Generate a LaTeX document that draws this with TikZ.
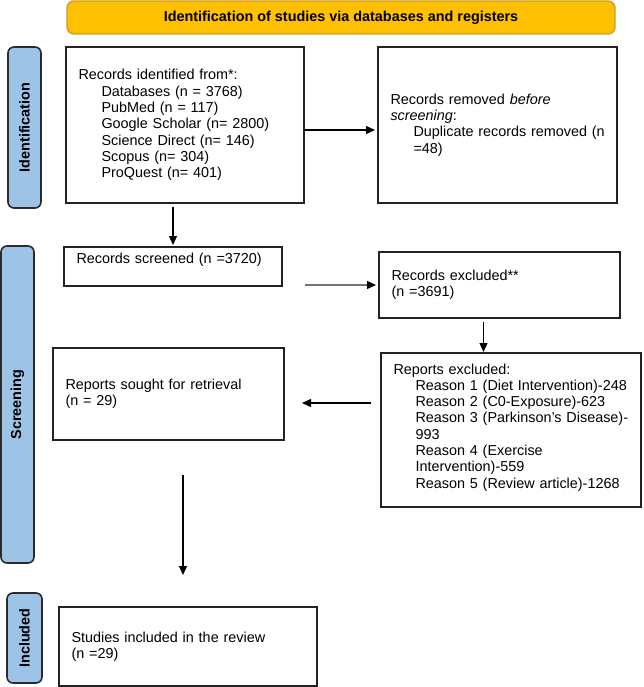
\documentclass[tikz,border=0pt]{standalone}
\usepackage{fontspec}
\setmainfont{Liberation Sans}
\usetikzlibrary{arrows.meta,calc}
\definecolor{bannerfill}{HTML}{FFC000}
\definecolor{bannerdraw}{HTML}{C9A227}
\definecolor{sidefill}{HTML}{9DC3E6}
\definecolor{sidedraw}{HTML}{2B2B2B}
\definecolor{boxdraw}{HTML}{222222}
\begin{document}
\begin{tikzpicture}[x=1pt,y=-1pt,
  every node/.style={font=\fontsize{14.4}{16.3}\selectfont},
  box/.style={draw=boxdraw, line width=1.6pt, rectangle, anchor=north west,
    inner xsep=12.5pt, inner ysep=0pt, outer sep=0pt, align=left},
  side/.style={draw=sidedraw, fill=sidefill, line width=1.6pt, rounded corners=6pt,
    anchor=north west, inner sep=0pt, outer sep=0pt},
  banner/.style={draw=bannerdraw, fill=bannerfill, line width=1.4pt, rounded corners=7pt,
    anchor=north west, inner sep=0pt, outer sep=0pt},
  arr/.style={line width=1.2pt, -{Triangle[length=9pt,width=8pt]}},
]
\useasboundingbox (0,0) rectangle (643,687);

% banner
\node[banner, minimum width=548pt, minimum height=33pt] (banner) at (67,1)
  {\bfseries Identification of studies via databases and registers};

% side labels
\node[side, minimum width=33pt, minimum height=161pt] (lident) at (8,47)
  {\rotatebox{90}{\bfseries Identification}};
\node[side, minimum width=33pt, minimum height=317pt] (lscreen) at (1,246)
  {\rotatebox{90}{\bfseries Screening}};
\node[side, minimum width=35pt, minimum height=90pt] (lincl) at (7,593)
  {\rotatebox{90}{\bfseries Included}};

% boxes
\node[box, minimum width=238pt, minimum height=156pt, text width=213pt] (ident) at (66,47)
  {Records identified from*:\\
   \hspace*{23pt}Databases (n = 3768)\\
   \hspace*{23pt}PubMed (n = 117)\\
   \hspace*{23pt}Google Scholar (n= 2800)\\
   \hspace*{23pt}Science Direct (n= 146)\\
   \hspace*{23pt}Scopus (n= 304)\\
   \hspace*{23pt}ProQuest (n= 401)};

\node[box, minimum width=239pt, minimum height=156pt, text width=214pt] (rem) at (378,47)
  {Records removed \textit{before}\\
   \textit{screening}:\\
   \hspace*{23pt}\mbox{Duplicate records removed (n}\\
   \hspace*{23pt}=48)};

\node[box, minimum width=218pt, minimum height=39pt, text width=193pt] (screened) at (64,247)
  {Records screened (n =3720)\\\mbox{}};

\node[box, minimum width=241pt, minimum height=66pt, text width=216pt] (excl) at (379,252)
  {Records excluded**\\(n =3691)};

\node[box, minimum width=231pt, minimum height=92pt, text width=206pt] (sought) at (53,348)
  {Reports sought for retrieval\\(n = 29)};

\node[box, minimum width=260pt, minimum height=154pt, text width=235pt] (repexcl) at (381,353)
  {Reports excluded:\\
   \hspace*{22pt}\mbox{Reason 1 (Diet Intervention)-248}\\
   \hspace*{22pt}\mbox{Reason 2 (C0-Exposure)-623}\\
   \hspace*{22pt}\mbox{Reason 3 (Parkinson’s Disease)-}\\
   \hspace*{22pt}993\\
   \hspace*{22pt}Reason 4 (Exercise\\
   \hspace*{22pt}Intervention)-559\\
   \hspace*{22pt}\mbox{Reason 5 (Review article)-1268}\\[-8pt]\mbox{}};

\node[box, minimum width=258pt, minimum height=79pt, text width=233pt] (incl) at (59,607)
  {Studies included in the review\\(n =29)};

% connectors
\draw[arr, shorten <=1pt, shorten >=3pt]
  ($(ident.east)+(0,5)$) -- ($(ident.east -| rem.west)+(0,5)$);
\draw[arr, shorten <=4pt, shorten >=2pt] (ident.south -| screened.north) -- (screened.north);
\draw[arr, draw=black!55, -{Triangle[length=9pt,width=8pt,color=black]}, shorten <=23pt, shorten >=3pt]
  (screened.east |- excl.west) -- (excl.west);
\coordinate (exd) at ($(excl.south)+(-16,0)$);
\draw[arr, shorten <=4pt, shorten >=1pt] (exd) -- (exd |- repexcl.north);
\draw[arr, shorten <=10pt, shorten >=18pt]
  ($(repexcl.west |- sought.east)+(0,9)$) -- ($(sought.east)+(0,9)$);
\coordinate (lt) at ($(sought.south)+(14.5,0)$);
\draw[arr, shorten <=35pt, shorten >=32pt] (lt) -- (lt |- incl.north);
\end{tikzpicture}
\end{document}
